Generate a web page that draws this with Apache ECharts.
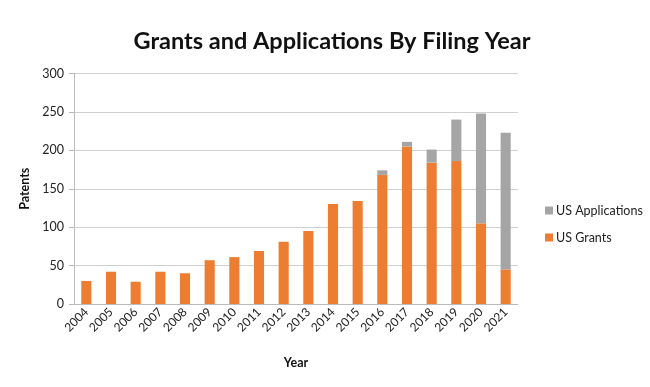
<!DOCTYPE html>
<html><head><meta charset="utf-8">
<script src="https://cdn.jsdelivr.net/npm/echarts@6/dist/echarts.min.js"></script>
<style>html,body{margin:0;padding:0;background:#fff}#c{width:650px;height:387px}</style>
</head><body><div id="c"></div>
<script>
const years = ['2004','2005','2006','2007','2008','2009','2010','2011','2012','2013','2014','2015','2016','2017','2018','2019','2020','2021'];
const usGrants = [30,42,29,42,40,57,61,69,81,95,130,134,168,205,184,186,105,45];
const usApplications = [0,0,0,0,0,0,0,0,0,0,0,0,6,6,17,54,143,178];
const yTicks = {min:0, max:300, interval:50};

const chart = echarts.init(document.getElementById('c'));
const font = 'Lato, "Open Sans", sans-serif';
chart.setOption({
  animation:false,
  title:{text:'Grants and Applications By Filing Year', left:327, textAlign:'center', top:24,
    textStyle:{fontFamily:font, fontSize:23.5, fontWeight:'bold', color:'#111'}},
  grid:{left:74, right:132, top:73.5, bottom:83},
  legend:{orient:'vertical', left:540, top:199, itemWidth:8, itemHeight:8, itemGap:14,
    icon:'rect', data:['US Applications','US Grants'],
    textStyle:{fontFamily:font, fontSize:12.5, color:'#222', padding:[0,0,0,-2]}},
  xAxis:{type:'category', data:years, name:'Year', nameLocation:'middle', nameGap:52,
    nameTextStyle:{fontFamily:font, fontSize:12.5, fontWeight:'bold', color:'#111'},
    axisLine:{lineStyle:{color:'#bbb'}}, axisTick:{lineStyle:{color:'#bbb'}, length:5},
    axisLabel:{rotate:45, fontFamily:font, fontSize:12, color:'#222', margin:6}},
  yAxis:{type:'value', min:yTicks.min, max:yTicks.max, interval:yTicks.interval,
    name:'Patents', nameLocation:'middle', nameGap:38, nameRotate:90,
    nameTextStyle:{fontFamily:font, fontSize:12.5, fontWeight:'bold', color:'#111'},
    axisLine:{show:true, lineStyle:{color:'#bbb'}}, axisTick:{show:true, length:5, lineStyle:{color:'#bbb'}},
    splitLine:{lineStyle:{color:'#d0d0d0'}},
    axisLabel:{fontFamily:font, fontSize:12.5, color:'#222', margin:10}},
  series:[
    {name:'US Grants', type:'bar', stack:'t', data:usGrants, barWidth:'41%', itemStyle:{color:'#ed7d31'}},
    {name:'US Applications', type:'bar', stack:'t', data:usApplications, barWidth:'41%', itemStyle:{color:'#a5a5a5'}}
  ]
});
</script></body></html>
